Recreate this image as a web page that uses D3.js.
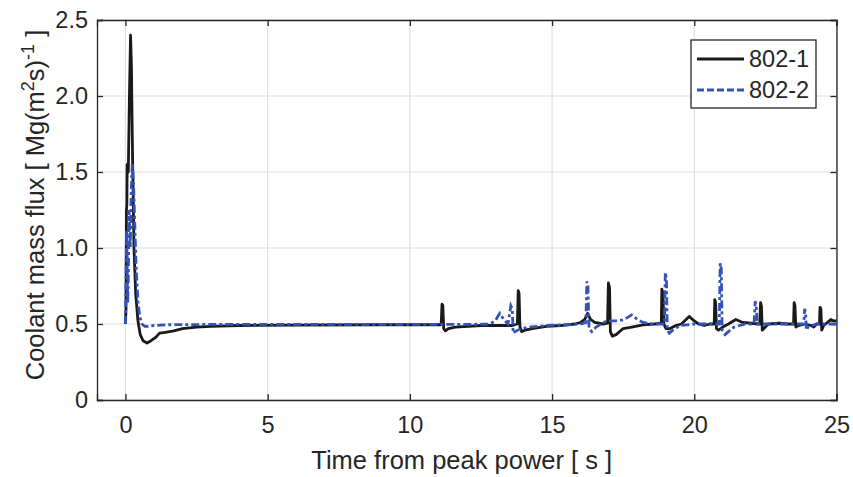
<!DOCTYPE html>
<html>
<head>
<meta charset="utf-8">
<script src="https://cdn.jsdelivr.net/npm/d3@7"></script>
<style>
  body { margin: 0; background: #fff; }
  text { font-family: 'Liberation Sans', Arial, sans-serif; fill: #262626; }
</style>
</head>
<body>
<div id="chart"></div>
<script>
// 802-1 (black solid)
const t1 = [0, 0.02, 0.035, 0.05, 0.06, 0.1, 0.14, 0.18, 0.21, 0.25, 0.3, 0.36, 0.44, 0.52, 0.62, 0.76, 0.9, 1.05, 1.2, 1.4, 1.7, 2.0, 2.5, 3, 4, 6, 9,
  11.1, 11.13, 11.16, 11.19, 11.25, 11.35, 11.6, 12.5, 13.3, 13.6, 13.78, 13.81, 13.84, 13.87, 13.93, 14.05, 14.3, 14.8, 15.3, 15.8,
  16.0, 16.15, 16.25, 16.35, 16.5, 16.8, 16.95, 16.98, 17.02, 17.05, 17.12, 17.25, 17.5, 17.8, 18.2, 18.6, 18.84, 18.86, 18.9, 18.93,
  19.0, 19.15, 19.35, 19.55, 19.82, 20.0, 20.15, 20.35, 20.55, 20.7, 20.72, 20.75, 20.78, 20.85, 21.0, 21.2, 21.46, 21.7, 22.0, 22.3,
  22.33, 22.36, 22.39, 22.45, 22.6, 23.0, 23.3, 23.49, 23.51, 23.54, 23.57, 23.65, 23.9, 24.1, 24.2, 24.3, 24.4, 24.42, 24.45, 24.48,
  24.55, 24.75, 24.8, 24.9, 25]
const y1 = [0.5, 0.6, 1.25, 1.28, 1.55, 1.5, 2.0, 2.40, 2.2, 1.6, 1.0, 0.7, 0.52, 0.43, 0.39, 0.375, 0.39, 0.41, 0.44, 0.445, 0.455, 0.47, 0.48, 0.485, 0.49, 0.493, 0.495,
  0.495, 0.63, 0.62, 0.47, 0.455, 0.47, 0.48, 0.49, 0.49, 0.49, 0.5, 0.72, 0.7, 0.48, 0.45, 0.46, 0.47, 0.485, 0.49, 0.5,
  0.51, 0.53, 0.57, 0.53, 0.51, 0.5, 0.505, 0.77, 0.74, 0.45, 0.42, 0.43, 0.47, 0.48, 0.495, 0.5, 0.505, 0.73, 0.7, 0.5,
  0.47, 0.47, 0.49, 0.5, 0.55, 0.52, 0.5, 0.49, 0.5, 0.5, 0.66, 0.64, 0.47, 0.46, 0.48, 0.5, 0.53, 0.51, 0.505, 0.5,
  0.64, 0.62, 0.46, 0.47, 0.5, 0.505, 0.5, 0.5, 0.64, 0.62, 0.48, 0.49, 0.5, 0.49, 0.48, 0.5, 0.5, 0.61, 0.6, 0.46,
  0.49, 0.52, 0.53, 0.52, 0.52]

// 802-2 (blue dash-dot)
const t2 = [0, 0.02, 0.04, 0.06, 0.08, 0.1, 0.13, 0.17, 0.2, 0.24, 0.28, 0.33, 0.38, 0.44, 0.5, 0.58, 0.68, 0.8, 1.0, 1.5, 3, 6, 10, 12,
  12.8, 13.0, 13.16, 13.3, 13.45, 13.55, 13.6, 13.63, 13.7, 13.9, 14.2, 14.8, 15.5, 16.0, 16.19, 16.22, 16.26, 16.3, 16.4, 16.55, 16.8,
  17.0, 17.3, 17.55, 17.8, 18.0, 18.2, 18.5, 18.8, 18.95, 18.98, 19.02, 19.05, 19.12, 19.25, 19.5, 20.0, 20.5, 20.88, 20.91, 20.95,
  20.98, 21.08, 21.2, 21.4, 21.8, 22.1, 22.14, 22.18, 22.21, 22.4, 23.0, 23.5, 23.85, 23.88, 23.91, 23.94, 24.0, 24.3, 25]
const y2 = [0.5, 0.8, 1.12, 0.95, 0.64, 0.8, 1.25, 1.0, 1.35, 1.56, 1.45, 1.15, 0.85, 0.65, 0.55, 0.5, 0.485, 0.485, 0.49, 0.495, 0.497, 0.497, 0.497, 0.497,
  0.5, 0.52, 0.57, 0.53, 0.5, 0.62, 0.6, 0.44, 0.45, 0.47, 0.48, 0.49, 0.495, 0.5, 0.51, 0.78, 0.75, 0.47, 0.45, 0.48, 0.51,
  0.52, 0.52, 0.53, 0.56, 0.53, 0.51, 0.5, 0.5, 0.5, 0.84, 0.8, 0.46, 0.44, 0.46, 0.49, 0.5, 0.5, 0.5, 0.90, 0.86,
  0.46, 0.43, 0.45, 0.48, 0.5, 0.5, 0.65, 0.62, 0.5, 0.5, 0.5, 0.5, 0.5, 0.6, 0.58, 0.46, 0.48, 0.5, 0.5]

const xTicks = [0, 5, 10, 15, 20, 25]
const yTicks = [0, 0.5, 1.0, 1.5, 2.0, 2.5]
const yTickLabels = ['0', '0.5', '1.0', '1.5', '2.0', '2.5']
const seriesNames = ['802-1', '802-2']

const margin = { top: 20, right: 16.5, bottom: 77, left: 97 }
const width = 853 - margin.left - margin.right
const height = 477 - margin.top - margin.bottom

const root = d3.select('#chart')
  .append('svg')
  .attr('width', 853)
  .attr('height', 477)

const svg = root.append('g')
  .attr('transform', 'translate(' + margin.left + ',' + margin.top + ')')

const xPositionScale = d3.scaleLinear().domain([-1, 25]).range([0, width])
const yPositionScale = d3.scaleLinear().domain([0, 2.5]).range([height, 0])

// grid
svg.selectAll('.xgrid')
  .data(xTicks)
  .enter()
  .append('line')
  .attr('x1', d => xPositionScale(d))
  .attr('x2', d => xPositionScale(d))
  .attr('y1', 0)
  .attr('y2', height)
  .attr('stroke', '#dedede')
  .attr('stroke-width', 1.2)

svg.selectAll('.ygrid')
  .data(yTicks)
  .enter()
  .append('line')
  .attr('x1', 0)
  .attr('x2', width)
  .attr('y1', d => yPositionScale(d))
  .attr('y2', d => yPositionScale(d))
  .attr('stroke', '#dedede')
  .attr('stroke-width', 1.2)

// axes (ticks inside, on all four sides)
const axisColor = '#262626'
const tickLen = 6

const xAxis = d3.axisBottom(xPositionScale).tickValues(xTicks).tickSize(-tickLen).tickPadding(16)
svg.append('g')
  .attr('class', 'axis x-axis')
  .attr('transform', 'translate(0,' + height + ')')
  .call(xAxis)

const xAxisTop = d3.axisTop(xPositionScale).tickValues(xTicks).tickSize(-tickLen).tickFormat('')
svg.append('g').attr('class', 'axis').call(xAxisTop)

const yAxis = d3.axisLeft(yPositionScale).tickValues(yTicks).tickSize(-tickLen)
  .tickPadding(9).tickFormat((d, i) => yTickLabels[i])
svg.append('g')
  .attr('class', 'axis y-axis')
  .call(yAxis)

const yAxisRight = d3.axisRight(yPositionScale).tickValues(yTicks).tickSize(-tickLen).tickFormat('')
svg.append('g')
  .attr('class', 'axis')
  .attr('transform', 'translate(' + width + ',0)')
  .call(yAxisRight)

svg.selectAll('.axis path').attr('stroke', axisColor).attr('stroke-width', 1.3)
svg.selectAll('.axis line').attr('stroke', axisColor).attr('stroke-width', 1.3)
svg.selectAll('.axis text')
  .attr('fill', axisColor)
  .style('font-family', "'Liberation Sans', Arial, sans-serif")
  .style('font-size', '23.5px')

// lines
const line = d3.line()
  .x(d => xPositionScale(d[0]))
  .y(d => yPositionScale(d[1]))

const data1 = t1.map((t, i) => [t, y1[i]])
const data2 = t2.map((t, i) => [t, y2[i]])

const black = '#1a1a1a'
const blue = '#3553b6'

svg.append('path')
  .datum(data1)
  .attr('d', line)
  .attr('fill', 'none')
  .attr('stroke', black)
  .attr('stroke-width', 2.8)
  .attr('stroke-linejoin', 'round')

svg.append('path')
  .datum(data2)
  .attr('d', line)
  .attr('fill', 'none')
  .attr('stroke', blue)
  .attr('stroke-width', 2.8)
  .attr('stroke-dasharray', '8,3,3,3')

// axis titles
root.append('text')
  .attr('x', margin.left + width / 2 - 5)
  .attr('y', 469)
  .attr('text-anchor', 'middle')
  .style('font-size', '25.5px')
  .text('Time from peak power [ s ]')

const ylab = root.append('text')
  .attr('transform', 'translate(44,205) rotate(-90)')
  .attr('text-anchor', 'middle')
  .style('font-size', '25.5px')
ylab.append('tspan').text('Coolant mass flux [ Mg(m')
ylab.append('tspan').attr('baseline-shift', 'super').style('font-size', '18px').text('2')
ylab.append('tspan').text('s)')
ylab.append('tspan').attr('baseline-shift', 'super').style('font-size', '18px').text('-1')
ylab.append('tspan').text(' ]')

// legend
const legend = root.append('g').attr('transform', 'translate(691,40)')
legend.append('rect')
  .attr('width', 125)
  .attr('height', 68)
  .attr('fill', '#fff')
  .attr('stroke', axisColor)
  .attr('stroke-width', 1.3)

const legendStyles = [
  { color: black, dash: null },
  { color: blue, dash: '7,3' }
]
seriesNames.forEach((name, i) => {
  const yy = 19 + i * 31
  legend.append('line')
    .attr('x1', 6)
    .attr('x2', 53)
    .attr('y1', yy)
    .attr('y2', yy)
    .attr('stroke', legendStyles[i].color)
    .attr('stroke-width', 2.8)
    .attr('stroke-dasharray', legendStyles[i].dash)
  legend.append('text')
    .attr('x', 58)
    .attr('y', yy + 8)
    .style('font-size', '23.5px')
    .text(name)
})
</script>
</body>
</html>
